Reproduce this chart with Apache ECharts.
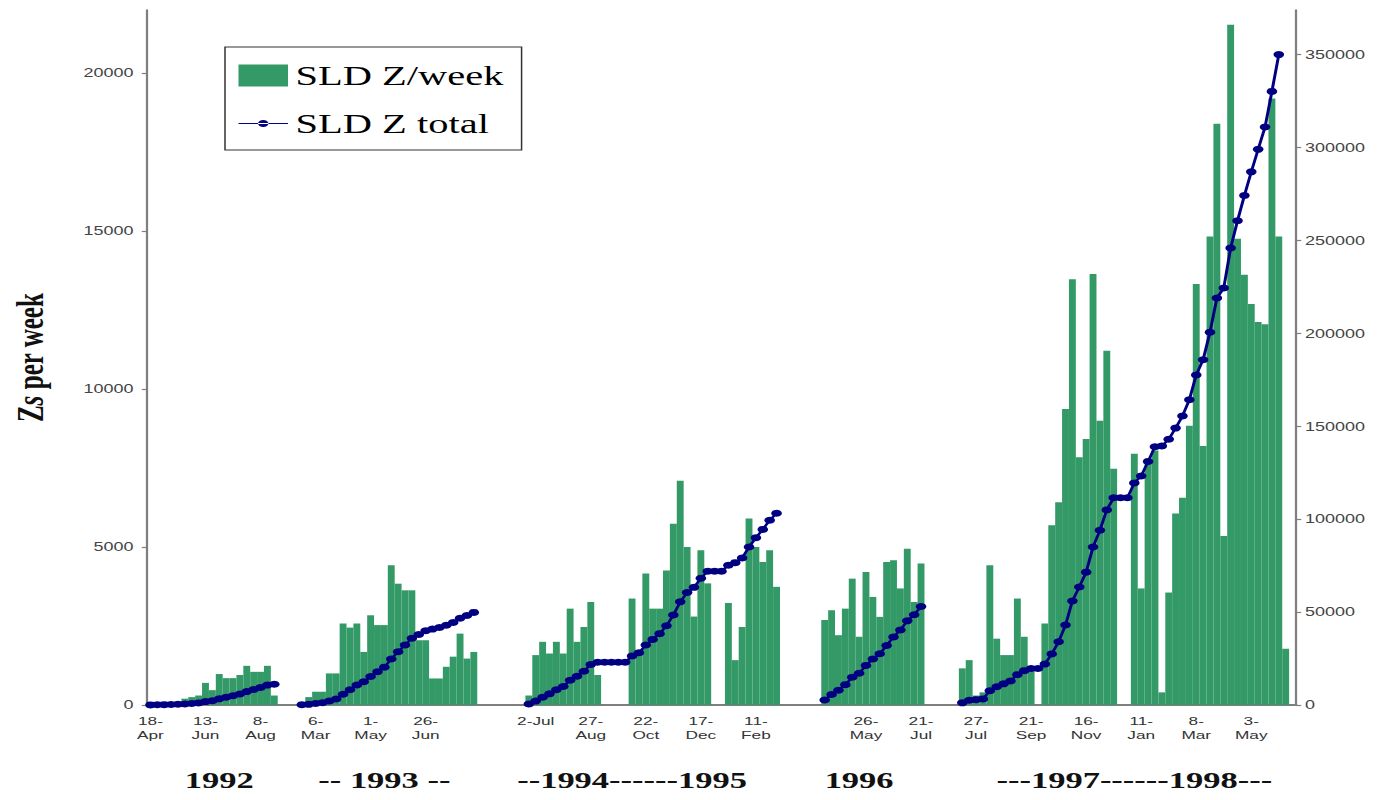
<!DOCTYPE html>
<html><head><meta charset="utf-8">
<script src="https://cdn.jsdelivr.net/npm/echarts@6/dist/echarts.min.js"></script>
<style>
html,body{margin:0;padding:0;background:#fff;overflow:hidden;width:1392px;height:800px;}
#wrap{width:1392px;height:800px;overflow:hidden;position:relative;}
#chart{width:928px;height:800px;transform:scaleX(1.5);transform-origin:0 0;}
</style></head><body><div id="wrap"><div id="chart"></div></div>
<script>
// Tick labels every 8 weeks ('' where no label is printed)
const tickLabels = ["18-\nApr","13-\nJun","8-\nAug","6-\nMar","1-\nMay","26-\nJun","","2-Jul","27-\nAug","22-\nOct","17-\nDec","11-\nFeb","","26-\nMay","21-\nJul","27-\nJul","21-\nSep","16-\nNov","11-\nJan","8-\nMar","3-\nMay"];
const yearLabels = ["1992","-- 1993 --","--1994------1995","1996","---1997------1998---"];
const yearAt = [10,34,70,103,143];
const leftTicks = [0,5000,10000,15000,20000];
const rightTicks = [0,50000,100000,150000,200000,250000,300000,350000];

// SLD Z per week (one value per week, null = no data)
const weekly = [
  60,60,80,80,100,200,250,300,700,470,980,850,850,950,1240,1050,1050,1240,300,
  null,null,null,
  100,250,420,420,1000,1000,2580,2450,2580,1680,2840,2530,2530,4420,3840,3630,3630,2050,2050,840,840,1210,1530,2260,1470,1680,
  null,null,null,null,null,null,null,
  300,1580,2000,1630,2000,1630,3050,2000,2470,3260,950,0,0,0,0,
  3370,1700,4160,3050,3050,4260,5740,7100,5000,2800,4900,3850,
  0,0,
  3230,1420,2470,5900,5000,4530,4900,3740,
  null,null,null,null,null,null,
  2690,3000,2210,3050,4000,2160,4210,3420,2790,4530,4580,3690,4950,3260,4480,
  null,null,null,null,null,
  1160,1420,300,400,4420,2100,1580,1580,3370,2160,1200,0,
  2580,5690,6420,9370,13480,7840,8420,13640,9000,11210,7480,
  0,0,
  7950,3690,7800,8060,400,
  3560,6060,6560,8840,13330,8200,14830,18400,5350,21530,14760,13620,12690,12120,12050,19200,14830,1780,
  null
];
// SLD Z total (running total, right axis)
const total = [
  60,120,200,280,380,580,830,1130,1830,2300,3300,4150,5000,5950,7200,8300,9400,10700,11200,
  null,null,null,
  100,350,770,1190,2190,3190,5770,8220,10800,12480,15320,17850,20380,24800,28640,32270,35900,37950,40000,40840,41680,42890,44420,46680,48150,49830,
  null,null,null,null,null,null,null,
  500,2100,4200,6000,8200,10000,13300,15500,18200,21800,23000,23000,23000,23000,23000,
  26400,28100,32300,35300,38400,42600,48400,55500,60500,63300,68200,72000,
  72000,72000,
  75200,76600,79100,85000,90000,94500,99400,103200,
  null,null,null,null,null,null,
  2690,5690,7900,10950,14950,17110,21320,24740,27530,32060,36640,40330,45280,48540,53020,
  null,null,null,null,null,
  1160,2580,2880,3280,7700,9800,11380,12960,16330,18490,19690,19690,
  22000,27500,34000,43000,56000,63500,71500,85000,94000,105000,111500,
  111500,111500,
  119500,123200,131000,139000,139400,
  143000,149000,155500,164300,177600,185800,200600,219000,224400,245900,260600,274200,286900,299000,311000,330200,350000,null,
  null
];

const N = weekly.length;
const categories = [];
const yearCats = [];
for (let i = 0; i < N; i++) {
  categories.push(i % 8 === 0 && tickLabels[i / 8] !== undefined ? tickLabels[i / 8] : '');
  yearCats.push('');
}
yearAt.forEach((k, j) => { yearCats[k] = yearLabels[j]; });

const chart = echarts.init(document.getElementById('chart'), null, {renderer: 'svg', width: 928, height: 800});
const axisGray = '#7f7f7f';
chart.setOption({
  animation: false,
  backgroundColor: '#fff',
  grid: {left: 97, right: 64, top: 10, bottom: 95, containLabel: false},
  legend: {
    orient: 'vertical', left: 150, top: 47,
    padding: [15, 12, 13, 9], itemGap: 21, itemWidth: 33, itemHeight: 22,
    borderColor: '#333', borderWidth: 1, backgroundColor: '#fff',
    textStyle: {fontFamily: 'Liberation Serif', fontSize: 27, color: '#000'},
    data: [
      {name: 'SLD Z/week', icon: 'rect'},
      {name: 'SLD Z total', icon: 'path://M0,0h0.01v0.01h-0.01z M32.99,21.99h0.01v0.01h-0.01z M0,10.4h33v1.2h-33z M13,11a3.5,3.5 0 1,0 7,0a3.5,3.5 0 1,0 -7,0z'}
    ]
  },
  xAxis: [
    {
      type: 'category', data: categories, boundaryGap: true,
      axisLine: {lineStyle: {color: axisGray, width: 2}},
      axisTick: {show: false},
      splitLine: {show: false},
      axisLabel: {interval: (i, v) => v !== '', color: '#333', fontSize: 11.5, fontFamily: 'Liberation Sans', lineHeight: 14, margin: 9}
    },
    {
      type: 'category', data: yearCats, position: 'bottom', boundaryGap: true,
      axisLine: {show: false}, axisTick: {show: false}, splitLine: {show: false},
      axisLabel: {interval: (i, v) => v !== '', color: '#111', fontSize: 23, fontWeight: 'bold', fontFamily: 'Liberation Serif', margin: 64}
    }
  ],
  yAxis: [
    {
      type: 'value', position: 'left', min: 0, max: 22000, interval: 5000,
      name: '{z|Z}{s|s}{z| per week}', nameLocation: 'middle', nameGap: 65,
      nameTextStyle: {rich: {
        z: {fontFamily: 'Liberation Serif', fontWeight: 'bold', fontSize: 25, color: '#111'},
        s: {fontFamily: 'Liberation Serif', fontWeight: 'bold', fontStyle: 'italic', fontSize: 25, color: '#111'}
      }},
      axisLine: {show: true, lineStyle: {color: axisGray, width: 1.5}},
      axisTick: {show: true, inside: false, length: 3.5, customValues: leftTicks, lineStyle: {color: axisGray, width: 1.2}},
      axisLabel: {customValues: leftTicks, formatter: v => (v % 5000 === 0 ? String(v) : ''), color: '#444', fontSize: 12, fontFamily: 'Liberation Sans', margin: 9},
      splitLine: {show: false}
    },
    {
      type: 'value', position: 'right', min: 0, max: 374000, interval: 50000,
      axisLine: {show: true, lineStyle: {color: axisGray, width: 1.5}},
      axisTick: {show: true, inside: false, length: 3.5, customValues: rightTicks, lineStyle: {color: axisGray, width: 1.2}},
      axisLabel: {customValues: rightTicks, formatter: v => (v % 50000 === 0 ? String(v) : ''), color: '#444', fontSize: 12, fontFamily: 'Liberation Sans', margin: 6},
      splitLine: {show: false}
    }
  ],
  series: [
    {
      name: 'SLD Z/week', type: 'bar', data: weekly, xAxisIndex: 0, yAxisIndex: 0,
      barCategoryGap: '0%', itemStyle: {color: '#339966'}, z: 2
    },
    {
      name: 'SLD Z total', type: 'line', data: total, xAxisIndex: 0, yAxisIndex: 1,
      symbol: 'circle', symbolSize: 7, showAllSymbol: true, connectNulls: false,
      lineStyle: {color: '#000080', width: 2}, itemStyle: {color: '#000080'}, z: 3
    }
  ]
});
</script></body></html>
